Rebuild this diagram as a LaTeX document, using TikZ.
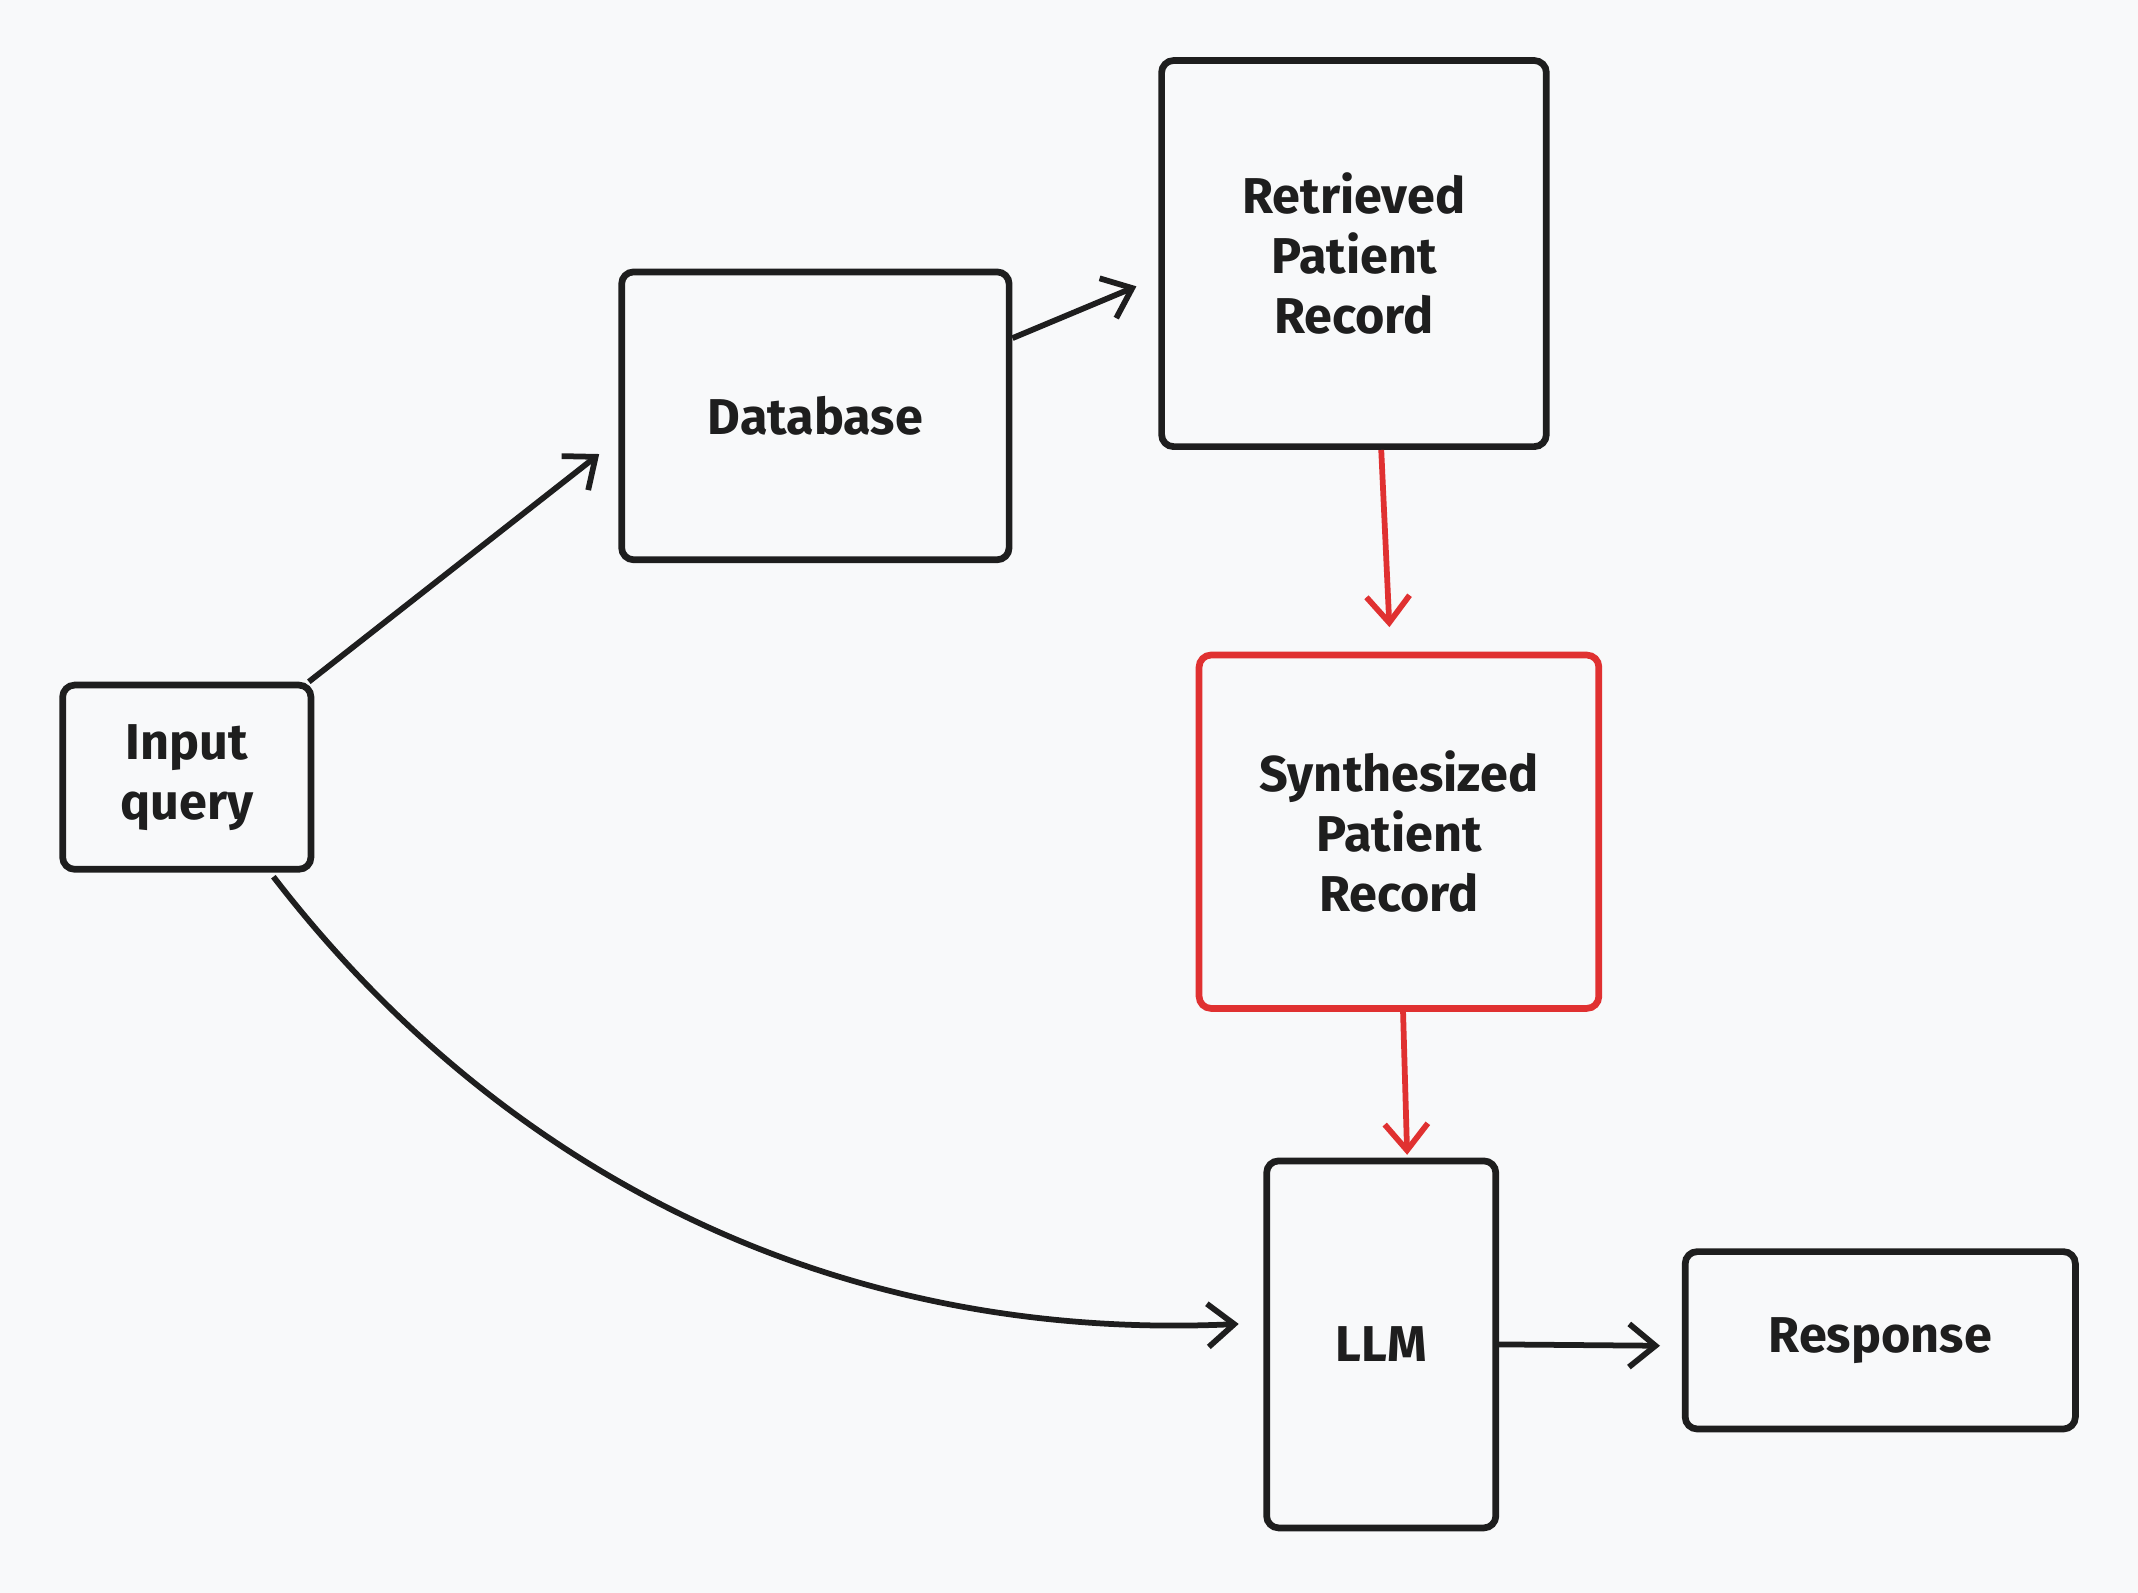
\documentclass[tikz,border=0pt]{standalone}
\usepackage{fontspec}
\setmainfont{Fira Sans}
\usepackage{tikz}
\usetikzlibrary{calc}
\usetikzlibrary{arrows.meta, positioning}

\definecolor{bgc}{HTML}{F8F9FA}
\definecolor{ink}{HTML}{1E1E1E}
\definecolor{redc}{HTML}{E03131}

\tikzset{
    blk/.style={draw=ink, line width=1.4pt, rounded corners=2.5pt, fill=bgc,
        align=center, inner sep=0pt, text=ink,
        font=\fontsize{10.5}{12.5}\selectfont\bfseries},
    arr/.style={-{Straight Barb[length=5.5pt,width=9pt]}, line width=1.2pt, draw=ink},
    redarr/.style={arr, draw=redc}
}

\begin{document}
\begin{tikzpicture}[x=0.01cm, y=-0.01cm]
    % 背景
    \fill[bgc] (0,0) rectangle (1568,1168);
    \useasboundingbox (0,0) rectangle (1568,1168);
    % 方框
    \node[blk, minimum width=1.82cm, minimum height=1.35cm] (query) at (137,570) {Input\\query};
    \node[blk, minimum width=2.84cm, minimum height=2.11cm] (db) at (598,305) {Database};
    \node[blk, minimum width=2.82cm, minimum height=2.83cm] (retr) at (993,186) {Retrieved\\Patient\\Record};
    \node[blk, draw=redc, minimum width=2.93cm, minimum height=2.59cm] (synth) at (1026,610) {Synthesized\\Patient\\Record};
    \node[blk, minimum width=1.68cm, minimum height=2.69cm] (llm) at (1013,986) {LLM};
    \node[blk, minimum width=2.86cm, minimum height=1.30cm] (resp) at (1379,983) {Response};
    % 箭头
    \draw[arr] ($(query.north east)+(-4,0)$) -- ($(db.west)+(-14,28)$);
    \draw[arr] ($(db.east)+(0,-57)$) -- ($(retr.west)+(-16,24)$);
    \draw[redarr] ($(retr.south)+(20,0)$) -- ($(synth.north)+(-7,-18)$);
    \draw[redarr] ($(synth.south)+(3,0)$) -- ($(llm.north)+(19,-2)$);
    \draw[arr] ($(query.south east)+(-30,3)$) .. controls (360,850) and (600,985) .. ($(llm.west)+(-18,-15)$);
    \draw[arr] (llm.east) -- ($(resp.west)+(-16,4)$);
\end{tikzpicture}
\end{document}
